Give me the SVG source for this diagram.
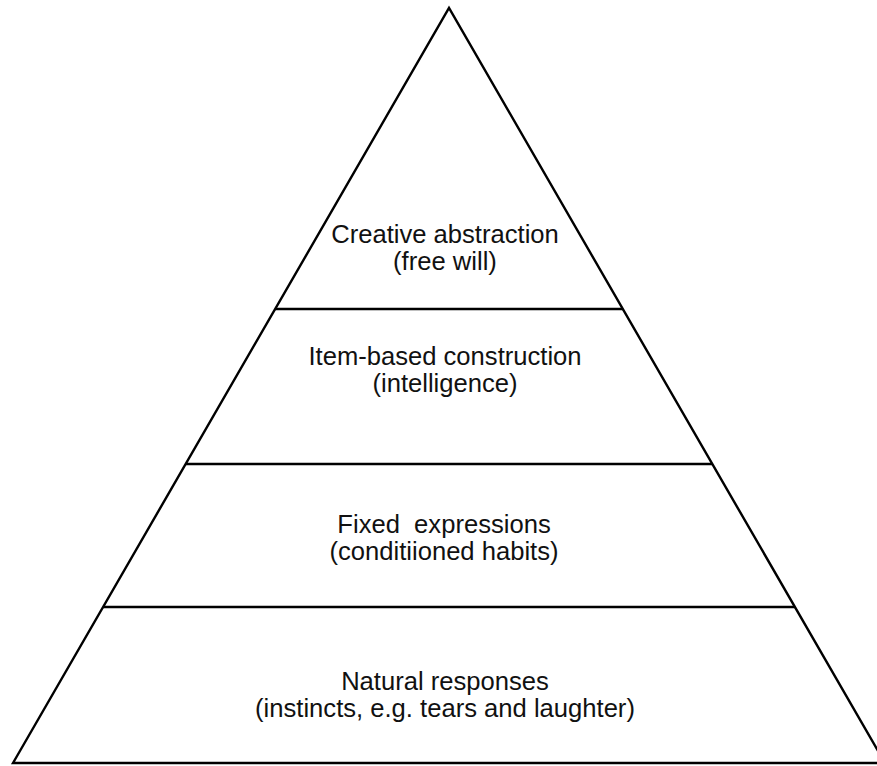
<svg xmlns="http://www.w3.org/2000/svg" width="877" height="766" viewBox="0 0 877 766">
<style>
.edge{stroke:#000;stroke-width:2.4;fill:none;stroke-linejoin:miter}
.lbl{font-family:"Liberation Sans",Arial,sans-serif;font-size:25.6px;fill:#111;text-anchor:middle;white-space:pre}
</style>
<rect width="877" height="766" fill="#fff"/>
<g id="connectors">
<path class="edge" d="M13,763 L449,8 L885,763 Z"/>
<line class="edge" x1="275" y1="309" x2="623" y2="309"/>
<line class="edge" x1="186" y1="464" x2="712" y2="464"/>
<line class="edge" x1="103" y1="607" x2="795" y2="607"/>
</g>
<g id="tier-creative">
<text class="lbl" x="445" y="243">Creative abstraction</text>
<text class="lbl" x="445" y="270">(free will)</text>
</g>
<g id="tier-item">
<text class="lbl" x="445" y="365">Item-based construction</text>
<text class="lbl" x="445" y="392">(intelligence)</text>
</g>
<g id="tier-fixed">
<text class="lbl" x="444" y="533">Fixed  expressions</text>
<text class="lbl" x="444" y="560">(conditiioned habits)</text>
</g>
<g id="tier-natural">
<text class="lbl" x="445" y="690">Natural responses</text>
<text class="lbl" x="445" y="717">(instincts, e.g. tears and laughter)</text>
</g>
</svg>
